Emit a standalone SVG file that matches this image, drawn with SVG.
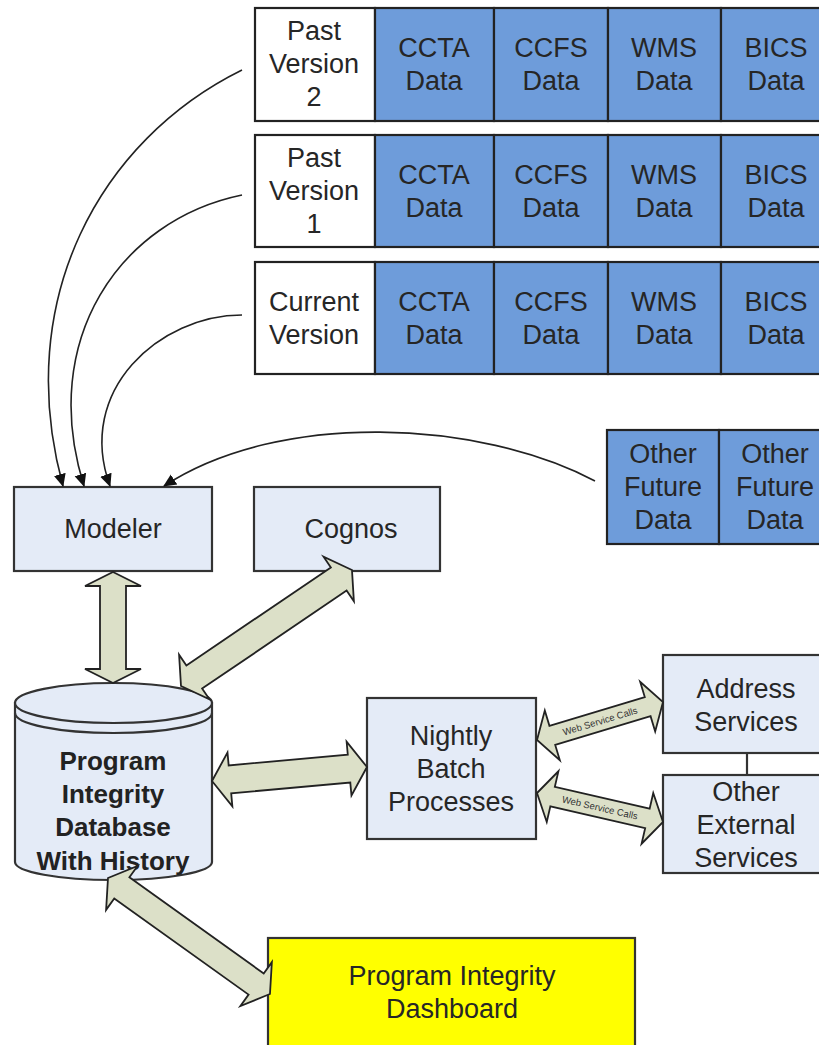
<svg xmlns="http://www.w3.org/2000/svg" width="819" height="1045" viewBox="0 0 819 1045">
<defs>
<style>
.t{font-family:"Liberation Sans",Arial,sans-serif;font-size:27px;fill:#262626;text-anchor:middle}
.b{font-family:"Liberation Sans",Arial,sans-serif;font-size:26px;font-weight:bold;fill:#222;text-anchor:middle}
.ws{font-family:"Liberation Sans",Arial,sans-serif;font-size:9.5px;fill:#333;text-anchor:middle}
.wht{fill:#ffffff;stroke:#222;stroke-width:2.2}
.blu{fill:#6E9CDA;stroke:#222;stroke-width:2.2}
.lt{fill:#E4EBF7;stroke:#333;stroke-width:2.2}
.ylw{fill:#FFFF00;stroke:#333;stroke-width:2.2}
.blk{fill:#DCE0C8;stroke:#222;stroke-width:1.8;stroke-linejoin:miter}
.cur{fill:none;stroke:#222;stroke-width:1.6}
</style>
<marker id="tri" markerWidth="14" markerHeight="14" refX="12" refY="6" orient="auto" markerUnits="userSpaceOnUse" viewBox="0 0 14 12">
<path d="M0,0 L13,6 L0,12 Z" fill="#111"/>
</marker>
</defs>
<rect width="819" height="1045" fill="#ffffff"/>

<g id="row-past2">
<rect class="wht" x="255" y="8" width="120" height="113"/>
<rect class="blu" x="375" y="8" width="119" height="113"/>
<rect class="blu" x="494" y="8" width="114" height="113"/>
<rect class="blu" x="608" y="8" width="113" height="113"/>
<rect class="blu" x="721" y="8" width="112" height="113"/>
<text class="t" x="314" y="40">Past</text><text class="t" x="314" y="73">Version</text><text class="t" x="314" y="106">2</text>
<text class="t" x="434" y="57">CCTA</text><text class="t" x="434" y="90">Data</text>
<text class="t" x="551" y="57">CCFS</text><text class="t" x="551" y="90">Data</text>
<text class="t" x="664" y="57">WMS</text><text class="t" x="664" y="90">Data</text>
<text class="t" x="776" y="57">BICS</text><text class="t" x="776" y="90">Data</text>
</g>

<g id="row-past1">
<rect class="wht" x="255" y="135" width="120" height="112"/>
<rect class="blu" x="375" y="135" width="119" height="112"/>
<rect class="blu" x="494" y="135" width="114" height="112"/>
<rect class="blu" x="608" y="135" width="113" height="112"/>
<rect class="blu" x="721" y="135" width="112" height="112"/>
<text class="t" x="314" y="166.5">Past</text><text class="t" x="314" y="199.5">Version</text><text class="t" x="314" y="232.5">1</text>
<text class="t" x="434" y="183.5">CCTA</text><text class="t" x="434" y="216.5">Data</text>
<text class="t" x="551" y="183.5">CCFS</text><text class="t" x="551" y="216.5">Data</text>
<text class="t" x="664" y="183.5">WMS</text><text class="t" x="664" y="216.5">Data</text>
<text class="t" x="776" y="183.5">BICS</text><text class="t" x="776" y="216.5">Data</text>
</g>

<g id="row-current">
<rect class="wht" x="255" y="262" width="120" height="112"/>
<rect class="blu" x="375" y="262" width="119" height="112"/>
<rect class="blu" x="494" y="262" width="114" height="112"/>
<rect class="blu" x="608" y="262" width="113" height="112"/>
<rect class="blu" x="721" y="262" width="112" height="112"/>
<text class="t" x="314" y="310.5">Current</text><text class="t" x="314" y="343.5">Version</text>
<text class="t" x="434" y="310.5">CCTA</text><text class="t" x="434" y="343.5">Data</text>
<text class="t" x="551" y="310.5">CCFS</text><text class="t" x="551" y="343.5">Data</text>
<text class="t" x="664" y="310.5">WMS</text><text class="t" x="664" y="343.5">Data</text>
<text class="t" x="776" y="310.5">BICS</text><text class="t" x="776" y="343.5">Data</text>
</g>

<g id="other-future">
<rect class="blu" x="607" y="430" width="112" height="114"/>
<rect class="blu" x="719" y="430" width="112" height="114"/>
<text class="t" x="663" y="462.5">Other</text><text class="t" x="663" y="495.5">Future</text><text class="t" x="663" y="528.5">Data</text>
<text class="t" x="775" y="462.5">Other</text><text class="t" x="775" y="495.5">Future</text><text class="t" x="775" y="528.5">Data</text>
</g>

<g id="modeler">
<rect class="lt" x="14" y="487" width="198" height="84"/>
<text class="t" x="113" y="537.5">Modeler</text>
</g>

<g id="cognos">
<rect class="lt" x="254" y="487" width="186" height="84"/>
<text class="t" x="351" y="537.5">Cognos</text>
</g>

<g id="database">
<path d="M15,703 L15,862 A98.5,18 0 0 0 212,862 L212,703 Z" fill="#E4EBF7" stroke="#333" stroke-width="2.2"/>
<ellipse cx="113.5" cy="703" rx="98.5" ry="20" fill="#E4EBF7" stroke="#333" stroke-width="2.2"/>
<path d="M15,713 A98.5,20 0 0 0 212,713" fill="none" stroke="#333" stroke-width="2.2"/>
<text class="b" x="113" y="769.5">Program</text>
<text class="b" x="113" y="802.5">Integrity</text>
<text class="b" x="113" y="836">Database</text>
<text class="b" x="113" y="869.5">With History</text>
</g>

<g id="nightly">
<rect class="lt" x="367" y="698" width="169" height="141"/>
<text class="t" x="451" y="744.5">Nightly</text><text class="t" x="451" y="777.5">Batch</text><text class="t" x="451" y="810.5">Processes</text>
</g>

<g id="address">
<rect class="lt" x="663" y="655" width="168" height="98"/>
<text class="t" x="746" y="697.5">Address</text><text class="t" x="746" y="730.5">Services</text>
</g>

<g id="other-external">
<rect class="lt" x="663" y="775" width="168" height="98"/>
<text class="t" x="746" y="800.5">Other</text><text class="t" x="746" y="833.5">External</text><text class="t" x="746" y="866.5">Services</text>
</g>

<g id="dashboard">
<rect class="ylw" x="268" y="938" width="367" height="115"/>
<text class="t" x="452" y="984.5">Program Integrity</text><text class="t" x="452" y="1017.5">Dashboard</text>
</g>

<g id="connectors">
<path class="cur" d="M242,70 C100,140 12,300 63,486" marker-end="url(#tri)"/>
<path class="cur" d="M242,195 C120,220 38,340 84,486" marker-end="url(#tri)"/>
<path class="cur" d="M242,315 C160,315 75,390 110,486" marker-end="url(#tri)"/>
<path class="cur" d="M595,481 C480,420 280,410 164,486" marker-end="url(#tri)"/>
<line x1="747" y1="753" x2="747" y2="775" stroke="#333" stroke-width="2.2"/>

<path class="blk" transform="translate(113,572) rotate(90)" d="M0,0 L14,-28 L14,-13 L97,-13 L97,-28 L111,0 L97,28 L97,13 L14,13 L14,28 Z"/>
<path class="blk" transform="translate(181,686) rotate(-34.15)" d="M0,0 L16,-27 L16,-14 L190.6,-14 L190.6,-27 L206.6,0 L190.6,27 L190.6,14 L16,14 L16,27 Z"/>
<path class="blk" transform="translate(212,781) rotate(-5.16)" d="M0,0 L18,-27 L18,-14 L137.6,-14 L137.6,-27 L155.6,0 L137.6,27 L137.6,14 L18,14 L18,27 Z"/>
<path class="blk" transform="translate(108,878) rotate(35.6)" d="M0,0 L17,-27 L17,-13 L182.2,-13 L182.2,-27 L199.2,0 L182.2,27 L182.2,13 L17,13 L17,27 Z"/>

<g transform="translate(537,740) rotate(-16.78)">
<path class="blk" d="M0,0 L16,-26 L16,-10 L115.6,-10 L115.6,-26 L131.6,0 L115.6,26 L115.6,10 L16,10 L16,26 Z"/>
<text class="ws" x="65.8" y="3.5">Web Service Calls</text>
</g>
<g transform="translate(537,793) rotate(12.96)">
<path class="blk" d="M0,0 L16,-26 L16,-10 L113.3,-10 L113.3,-26 L129.3,0 L113.3,26 L113.3,10 L16,10 L16,26 Z"/>
<text class="ws" x="64.6" y="3.5">Web Service Calls</text>
</g>
</g>
</svg>
